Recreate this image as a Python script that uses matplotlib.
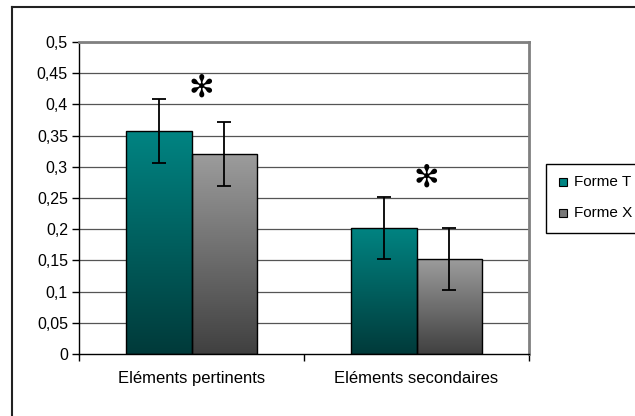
import numpy as np
import matplotlib.pyplot as plt
from matplotlib.colors import LinearSegmentedColormap
from matplotlib.patches import Rectangle
from matplotlib.lines import Line2D

plt.rcParams['font.family'] = ['Liberation Sans', 'DejaVu Sans']

# --- données ---
categories = ['Eléments pertinents', 'Eléments secondaires']
series = ['Forme T', 'Forme X']
forme_t = [0.357, 0.202]
forme_x = [0.320, 0.152]
err_t = [0.051, 0.049]
err_x = [0.051, 0.050]
star_y = [0.426, 0.282]   # position des astérisques
yticks = [0, 0.05, 0.1, 0.15, 0.2, 0.25, 0.3, 0.35, 0.4, 0.45, 0.5]

# couleurs dégradé (haut, bas)
teal = ('#008482', '#003a3a')
grey = ('#9c9c9c', '#404040')

fig = plt.figure(figsize=(6.35, 4.16), dpi=100)
ax = fig.add_axes([79/635, 62/416, 450/635, 312/416])

# cadre extérieur (seulement gauche et haut visibles)
fig.add_artist(Line2D([12/635, 12/635], [0, 1 - 7/416], color='#222222', lw=1.5, transform=fig.transFigure))
fig.add_artist(Line2D([12/635, 1.0], [1 - 7/416, 1 - 7/416], color='#222222', lw=1.5, transform=fig.transFigure))

w = 0.289
x = np.arange(len(categories))

for ax_y in yticks[1:]:
    ax.axhline(ax_y, color='#555555', lw=0.9, zorder=1)


def gradient_bars(xpos, vals, errs, cols):
    cmap = LinearSegmentedColormap.from_list('g', [cols[1], cols[0]])
    bars = ax.bar(xpos, vals, w, facecolor='none', edgecolor='black', lw=1.0, zorder=3)
    for b in bars:
        x0 = b.get_x()
        h = b.get_height()
        grad = np.linspace(0, 1, 256).reshape(-1, 1)
        im = ax.imshow(grad, extent=[x0, x0 + w, 0, h], origin='lower', aspect='auto',
                       cmap=cmap, zorder=2)
        im.set_clip_path(b)
    ax.errorbar(xpos, vals, yerr=errs, fmt='none', ecolor='black', elinewidth=1.3,
                capsize=5, capthick=1.3, zorder=4)


gradient_bars(x - w/2, forme_t, err_t, teal)
gradient_bars(x + w/2, forme_x, err_x, grey)

for i, sy in enumerate(star_y):
    ax.text(x[i] + 0.045, sy, '✻', ha='center', va='center', fontsize=22,
            family=['DejaVu Sans'], zorder=5)

ax.set_xlim(-0.5, 1.5)
ax.set_ylim(0, 0.5)
ax.set_yticks(yticks)
ax.set_yticklabels([('%g' % v).replace('.', ',') for v in yticks], fontsize=11.5)
ax.set_xticks([-0.5, 0.5, 1.5])
ax.set_xticklabels([])
ax.set_xticks(x, minor=True)
ax.set_xticklabels(categories, minor=True, fontsize=12)
ax.tick_params(axis='x', which='minor', length=0, pad=12)
ax.tick_params(axis='x', which='major', length=5, width=1, direction='out')
ax.tick_params(axis='y', length=5, width=1, direction='out', pad=3)

for side in ['left', 'bottom']:
    ax.spines[side].set_color('black')
    ax.spines[side].set_linewidth(1.0)
for side in ['top', 'right']:
    ax.spines[side].set_color('#808080')
    ax.spines[side].set_linewidth(2.0)

# légende (coupée à droite comme dans l'original)
fig.add_artist(Rectangle((546/635, 1 - 233/416), 110/635, 69/416, transform=fig.transFigure,
                         facecolor='white', edgecolor='black', lw=1.0))
for k, (name, cols) in enumerate(zip(series, [teal, grey])):
    yy = 1 - (182 + 31 * k)/416
    fig.add_artist(Rectangle((559/635, yy - 4/416), 8/635, 8/416, transform=fig.transFigure,
                             facecolor=cols[0] if k == 0 else '#777777', edgecolor='black', lw=0.8))
    fig.text(574/635, yy, name, fontsize=11, va='center', ha='left')

fig.savefig('out.png', dpi=100)
